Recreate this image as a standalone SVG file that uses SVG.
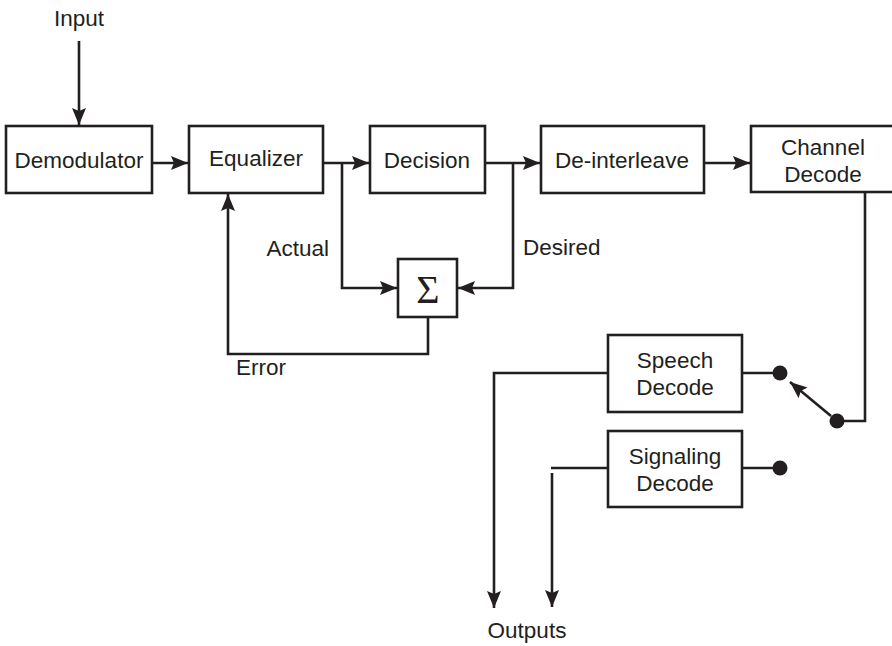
<svg xmlns="http://www.w3.org/2000/svg" width="892" height="646" viewBox="0 0 892 646">
<style>
.box{fill:#fff;stroke:#231f20;stroke-width:2.6}
.ln{fill:none;stroke:#231f20;stroke-width:2.6}
.t{font-family:"Liberation Sans",Arial,sans-serif;font-size:22.5px;fill:#231f20}
.c{text-anchor:middle}
.dot{fill:#231f20}
</style>
<defs>
<marker id="ah" viewBox="0 0 17 14" refX="17" refY="7" markerWidth="17" markerHeight="14" markerUnits="userSpaceOnUse" orient="auto">
<path d="M0,0 L17,7 L0,14 L3,7 Z" fill="#231f20"/>
</marker>
</defs>
<rect width="892" height="646" fill="#fff"/>
<g id="connectors">
<path class="ln" d="M79,41 V125" marker-end="url(#ah)"/>
<path class="ln" d="M152,163 H188" marker-end="url(#ah)"/>
<path class="ln" d="M323,163 H369" marker-end="url(#ah)"/>
<path class="ln" d="M342,163 V288 H397" marker-end="url(#ah)"/>
<path class="ln" d="M485,163 H540" marker-end="url(#ah)"/>
<path class="ln" d="M513,163 V288 H458" marker-end="url(#ah)"/>
<path class="ln" d="M704,163 H750" marker-end="url(#ah)"/>
<path class="ln" d="M428,317 V354 H228 V194" marker-end="url(#ah)"/>
<path class="ln" d="M865,192 V421 H837"/>
<path class="ln" d="M742,373 H780"/>
<path class="ln" d="M742,468 H780"/>
<path class="ln" d="M831,416 L790,382" marker-end="url(#ah)"/>
<path class="ln" d="M608,373 H494 V608" marker-end="url(#ah)"/>
<path class="ln" d="M608,468 H551"/>
<path class="ln" d="M552,473 V607" marker-end="url(#ah)"/>
<circle class="dot" cx="780" cy="373" r="7.5"/>
<circle class="dot" cx="837" cy="421" r="7.5"/>
<circle class="dot" cx="780" cy="468" r="7.5"/>
</g>
<g id="input"><text class="t c" x="79" y="26">Input</text></g>
<g id="demodulator"><rect class="box" x="6" y="126" width="146" height="67"/><text class="t c" x="79" y="168">Demodulator</text></g>
<g id="equalizer"><rect class="box" x="189" y="126" width="134" height="67"/><text class="t c" x="256" y="166">Equalizer</text></g>
<g id="decision"><rect class="box" x="370" y="126" width="115" height="67"/><text class="t c" x="427" y="168">Decision</text></g>
<g id="deinterleave"><rect class="box" x="541" y="126" width="163" height="67"/><text class="t c" x="622" y="168">De-interleave</text></g>
<g id="channel-decode"><rect class="box" x="751" y="126" width="144" height="66"/><text class="t c" x="823" y="155">Channel</text><text class="t c" x="823" y="182">Decode</text></g>
<g id="sigma"><rect class="box" x="398" y="259" width="59" height="58"/><text x="428" y="303" text-anchor="middle" font-family="'Liberation Serif','Times New Roman',serif" font-size="40" fill="#231f20">Σ</text></g>
<g id="labels">
<text class="t" x="329" y="256" text-anchor="end">Actual</text>
<text class="t" x="523" y="255">Desired</text>
<text class="t" x="236" y="375">Error</text>
</g>
<g id="speech-decode"><rect class="box" x="608" y="335" width="134" height="77"/><text class="t c" x="675" y="368">Speech</text><text class="t c" x="675" y="395">Decode</text></g>
<g id="signaling-decode"><rect class="box" x="608" y="431" width="134" height="76"/><text class="t c" x="675" y="464">Signaling</text><text class="t c" x="675" y="491">Decode</text></g>
<g id="outputs"><text class="t c" x="527" y="638">Outputs</text></g>
</svg>
